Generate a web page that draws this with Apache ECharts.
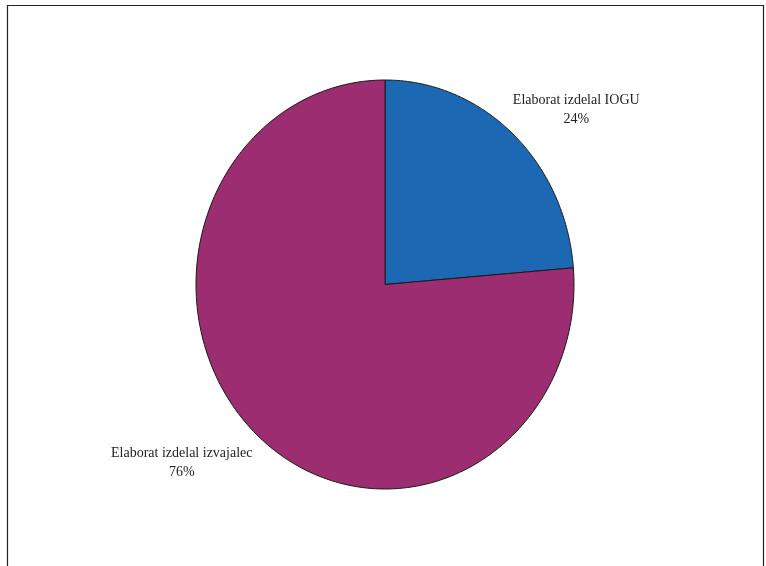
<!DOCTYPE html>
<html>
<head>
<meta charset="utf-8">
<script src="https://cdn.jsdelivr.net/npm/echarts@6/dist/echarts.min.js"></script>
<style>
html,body{margin:0;padding:0;background:#fff;}
#chart{width:766px;height:566px;}
</style>
</head>
<body>
<div id="chart"></div>
<script>
const categories = ['Elaborat izdelal IOGU', 'Elaborat izdelal izvajalec'];
const values = [23.7, 76.3];
const colors = ['#1c68b3', '#9b2d70'];

const total = values.reduce((a, b) => a + b, 0);
const cumulative = values.map((v, i) => values.slice(0, i).reduce((a, b) => a + b, 0));

const chart = echarts.init(document.getElementById('chart'), null, {renderer: 'canvas'});

function renderItem(params, api) {
  const i = params.dataIndex;
  const v = api.value(2);
  const start = cumulative[i] / total * Math.PI * 2;
  const end = (cumulative[i] + v) / total * Math.PI * 2;
  const N = 200;
  const points = [api.coord([0, 0])];
  for (let t = 0; t <= N; t++) {
    const a = start + (end - start) * t / N;
    points.push(api.coord([Math.sin(a), Math.cos(a)]));
  }
  const mid = (start + end) / 2;
  const anchor = api.coord([1.54 * Math.sin(mid), 1.175 * Math.cos(mid)]);
  return {
    type: 'group',
    children: [
      {
        type: 'polygon',
        shape: {points: points},
        style: {fill: colors[i], stroke: '#1a1a1a', lineWidth: 1}
      },
      {
        type: 'text',
        x: anchor[0] - 6,
        y: anchor[1] + 2,
        z2: 10,
        style: {
          text: categories[i] + '\n' + Math.round(v / total * 100) + '%',
          font: '14px "Liberation Serif", "DejaVu Serif", serif',
          fill: '#222',
          align: 'center',
          verticalAlign: 'middle',
          lineHeight: 19
        }
      }
    ]
  };
}

chart.setOption({
  animation: false,
  backgroundColor: '#fff',
  graphic: [{
    type: 'rect',
    shape: {x: 7.5, y: 5.5, width: 756, height: 620},
    style: {fill: 'none', stroke: '#222', lineWidth: 1.2},
    silent: true
  }],
  grid: {left: 196, right: 192, top: 80, bottom: 77},
  xAxis: {type: 'value', min: -1, max: 1, show: false},
  yAxis: {type: 'value', min: -1, max: 1, show: false},
  series: [{
    type: 'custom',
    renderItem: renderItem,
    encode: {x: 0, y: 1},
    data: values.map(v => [0, 0, v])
  }]
});
</script>
</body>
</html>
